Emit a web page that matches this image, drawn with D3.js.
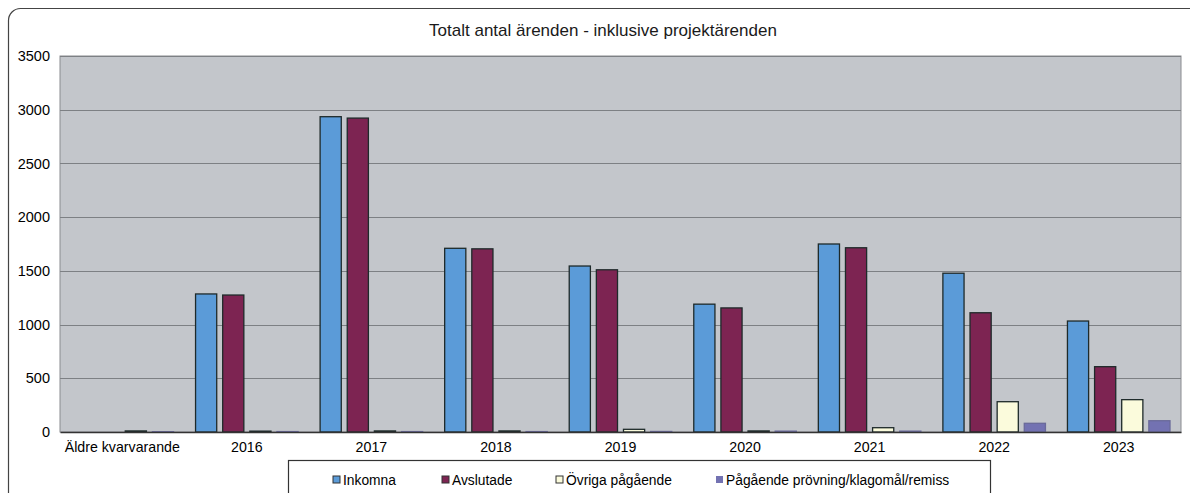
<!DOCTYPE html>
<html>
<head>
<meta charset="utf-8">
<script src="https://cdn.jsdelivr.net/npm/d3@7"></script>
<style>
  body { margin: 0; background: #fff; }
  text { font-family: "Liberation Sans", Arial, sans-serif; }
</style>
</head>
<body>
<script>
var categories = ["Äldre kvarvarande", "2016", "2017", "2018", "2019", "2020", "2021", "2022", "2023"];
var seriesNames = ["Inkomna", "Avslutade", "Övriga pågående", "Pågående prövning/klagomål/remiss"];
var inkomna   = [0, 1285, 2935, 1710, 1545, 1190, 1750, 1478, 1033];
var avslutade = [0, 1275, 2922, 1705, 1510, 1155, 1715, 1110, 608];
var ovriga    = [10, 8, 10, 10, 25, 10, 40, 282, 301];
var pagaende  = [3, 4, 4, 4, 5, 8, 8, 81, 105];
var yTicks = [0, 500, 1000, 1500, 2000, 2500, 3000, 3500];

var colors = ["#5b9bd8", "#7d2452", "#fbfbdc", "#7372b2"];
var allSeries = [inkomna, avslutade, ovriga, pagaende];

var width = 1190, height = 493;
var plotLeft = 60, plotRight = 1181, plotTop = 56, plotBottom = 432;

var svg = d3.select("body").append("svg")
    .attr("width", width)
    .attr("height", height);

// outer chart frame
svg.append("rect")
    .attr("x", 8.5).attr("y", 8.5)
    .attr("width", 1200).attr("height", 520)
    .attr("rx", 12)
    .attr("fill", "#fff")
    .attr("stroke", "#444")
    .attr("stroke-width", 1.2);

svg.append("text")
    .attr("x", 603).attr("y", 36)
    .attr("text-anchor", "middle")
    .attr("font-size", 17)
    .attr("fill", "#1a1a1a")
    .text("Totalt antal ärenden - inklusive projektärenden");

var x = d3.scaleBand()
    .domain(categories)
    .range([plotLeft, plotRight]);

var x1 = d3.scaleBand()
    .domain(d3.range(4))
    .range([11, x.bandwidth() - 11])
    .paddingInner(0.22);

var y = d3.scaleLinear()
    .domain([0, 3500])
    .range([plotBottom, plotTop]);

// plot background
svg.append("rect")
    .attr("x", plotLeft).attr("y", plotTop)
    .attr("width", plotRight - plotLeft).attr("height", plotBottom - plotTop)
    .attr("fill", "#c3c6cb")
    .attr("stroke", "#8a8c90");

// gridlines
svg.append("g")
    .selectAll("line")
    .data(yTicks.slice(1))
    .enter()
    .append("line")
    .attr("x1", plotLeft).attr("x2", plotRight)
    .attr("y1", function(d) { return Math.round(y(d)) + 0.5; })
    .attr("y2", function(d) { return Math.round(y(d)) + 0.5; })
    .attr("stroke", "#7d8084")
    .attr("stroke-width", 1);

// y axis labels
var yAxis = d3.axisLeft(y)
    .tickValues(yTicks)
    .tickFormat(d3.format("d"))
    .tickSize(0)
    .tickPadding(10);

svg.append("g")
    .attr("transform", "translate(" + plotLeft + ",0)")
    .call(yAxis)
    .call(function(g) { g.select(".domain").remove(); })
    .selectAll("text")
    .attr("font-size", 14.5)
    .attr("fill", "#000")
    .attr("font-family", "Liberation Sans, Arial, sans-serif");

// bars
var groups = svg.append("g")
    .selectAll("g")
    .data(categories)
    .enter()
    .append("g")
    .attr("transform", function(d) { return "translate(" + x(d) + ",0)"; });

groups.selectAll("rect")
    .data(function(d, i) {
        return allSeries.map(function(s, j) { return { s: j, v: s[i] }; });
    })
    .enter()
    .append("rect")
    .attr("x", function(d) { return x1(d.s); })
    .attr("y", function(d) { return y(d.v); })
    .attr("width", x1.bandwidth())
    .attr("height", function(d) { return plotBottom - y(d.v); })
    .attr("fill", function(d) { return colors[d.s]; })
    .attr("stroke", function(d) { return d.s == 3 ? "#6a6a9a" : "#1e2a2a"; })
    .attr("stroke-width", 1.3);

// x axis
var xAxis = d3.axisBottom(x)
    .tickSize(0)
    .tickPadding(10);

svg.append("g")
    .attr("transform", "translate(0," + plotBottom + ")")
    .call(xAxis)
    .call(function(g) { g.select(".domain").attr("stroke", "#333").attr("stroke-width", 1.5); })
    .selectAll("text")
    .attr("font-size", 14.2)
    .attr("fill", "#000")
    .attr("font-family", "Liberation Sans, Arial, sans-serif");

// legend
var legend = svg.append("g");
legend.append("rect")
    .attr("x", 288.5).attr("y", 460.5)
    .attr("width", 702).attr("height", 60)
    .attr("fill", "#fff")
    .attr("stroke", "#333")
    .attr("stroke-width", 1.2);

var legendX = [333, 442, 556, 716];
var item = legend.selectAll("g.item")
    .data(seriesNames)
    .enter()
    .append("g")
    .attr("transform", function(d, i) { return "translate(" + legendX[i] + ",480)"; });

item.append("rect")
    .attr("x", 0).attr("y", -4)
    .attr("width", 7).attr("height", 7)
    .attr("fill", function(d, i) { return colors[i]; })
    .attr("stroke", function(d, i) { return i == 3 ? "none" : "#333"; })
    .attr("stroke-width", 1);

item.append("text")
    .attr("x", 10).attr("y", 5)
    .attr("font-size", 13.8)
    .attr("fill", "#000")
    .text(function(d) { return d; });
</script>
</body>
</html>
